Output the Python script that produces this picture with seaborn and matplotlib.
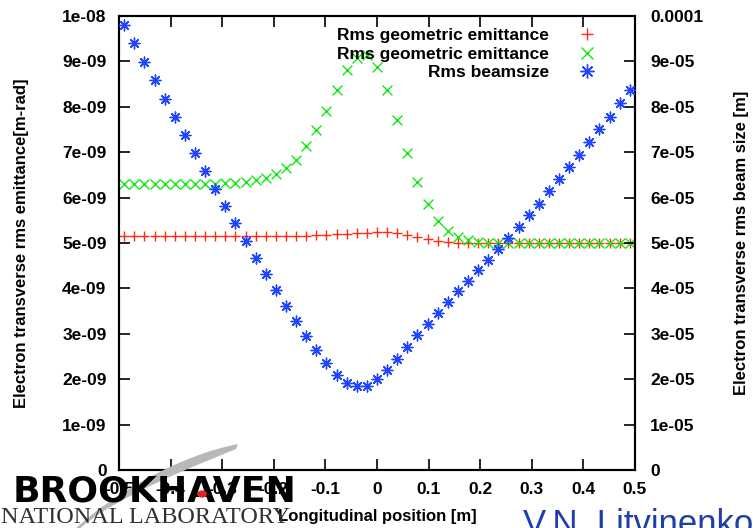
import matplotlib
matplotlib.use("Agg")
import matplotlib.pyplot as plt
import seaborn as sns
import pandas as pd
from matplotlib.ticker import FixedLocator, FixedFormatter
from matplotlib.lines import Line2D
from matplotlib.patches import Circle, PathPatch
from matplotlib.path import Path

# Longitudinal position of each sample [m]
position = [-0.4900, -0.4704, -0.4508, -0.4312, -0.4116, -0.3920, -0.3724, -0.3528,
            -0.3332, -0.3136, -0.2940, -0.2744, -0.2548, -0.2352, -0.2156, -0.1960,
            -0.1764, -0.1568, -0.1372, -0.1176, -0.0980, -0.0784, -0.0588, -0.0392,
            -0.0196, 0.0000, 0.0196, 0.0392, 0.0588, 0.0784, 0.0980, 0.1176,
            0.1372, 0.1568, 0.1764, 0.1960, 0.2156, 0.2352, 0.2548, 0.2744,
            0.2940, 0.3136, 0.3332, 0.3528, 0.3724, 0.3920, 0.4116, 0.4312,
            0.4508, 0.4704, 0.4900]

# Rms geometric emittance, first plane [1e-9 m-rad]
emit_a = [5.16] * 18 + [5.16, 5.17, 5.18, 5.19, 5.20, 5.22, 5.23, 5.24, 5.24, 5.22,
                        5.18, 5.13, 5.08, 5.05, 5.03, 5.01] + [5.00] * 17

# Rms geometric emittance, second plane [1e-9 m-rad]
emit_b = [6.31] * 10 + [6.32, 6.33, 6.35, 6.38, 6.44, 6.52, 6.66, 6.83, 7.13, 7.48,
                        7.91, 8.38, 8.80, 9.07, 9.13, 8.88, 8.38, 7.70, 6.98, 6.35,
                        5.86, 5.49, 5.26, 5.13, 5.07, 5.03, 5.01] + [5.00] * 14

# Rms beam size [1e-5 m]
beamsize = [9.80, 9.40, 8.98, 8.58, 8.17, 7.78, 7.37, 6.98, 6.58, 6.20, 5.81, 5.43,
            5.04, 4.68, 4.32, 3.96, 3.61, 3.28, 2.95, 2.64, 2.36, 2.10, 1.92, 1.84,
            1.86, 2.00, 2.20, 2.45, 2.71, 2.97, 3.22, 3.46, 3.69, 3.94, 4.17, 4.40,
            4.63, 4.87, 5.10, 5.36, 5.62, 5.87, 6.14, 6.40, 6.68, 6.94, 7.23, 7.51,
            7.78, 8.08, 8.36]

series_labels = ["Rms geometric emittance", "Rms geometric emittance", "Rms beamsize"]

x_ticks = [-0.5, -0.4, -0.3, -0.2, -0.1, 0.0, 0.1, 0.2, 0.3, 0.4, 0.5]
x_ticklabels = ["-0.5", "-0.4", "-0.3", "-0.2", "-0.1", "0", "0.1", "0.2", "0.3", "0.4", "0.5"]
left_ticklabels = ["0", "1e-09", "2e-09", "3e-09", "4e-09", "5e-09",
                   "6e-09", "7e-09", "8e-09", "9e-09", "1e-08"]
right_ticklabels = ["0", "1e-05", "2e-05", "3e-05", "4e-05", "5e-05",
                    "6e-05", "7e-05", "8e-05", "9e-05", "0.0001"]

df = pd.DataFrame({
    "z": position,
    "emit_a": [v * 1e-9 for v in emit_a],
    "emit_b": [v * 1e-9 for v in emit_b],
    "size": [v * 1e-5 for v in beamsize],
})

sns.set_theme(style="white")
plt.rcParams["font.family"] = ["Liberation Sans", "DejaVu Sans"]
plt.rcParams["font.weight"] = "bold"
for key in ("text.color", "axes.labelcolor", "xtick.color", "ytick.color"):
    plt.rcParams[key] = "black"

RED, GREEN, BLUE = "#ff2a10", "#10e810", "#1f45ff"
ASTERISK = (8, 2, 0)

W, H = 753, 528
fig = plt.figure(figsize=(W / 100, H / 100), dpi=100)
ax = fig.add_axes([119 / W, 1 - 470 / H, 516 / W, 454 / H])
ax2 = ax.twinx()

sns.scatterplot(data=df, x="z", y="emit_a", ax=ax, marker="+", color=RED,
                s=48, linewidth=1.0, legend=False, zorder=3)
sns.scatterplot(data=df, x="z", y="emit_b", ax=ax, marker="x", color=GREEN,
                s=50, linewidth=1.0, legend=False, zorder=4)
sns.scatterplot(data=df, x="z", y="size", ax=ax2, marker=ASTERISK, color=BLUE,
                s=60, linewidth=1.0, legend=False, zorder=5)

ax.set_xlim(-0.5, 0.5)
ax.set_ylim(0, 1e-8)
ax2.set_ylim(0, 1e-4)

ax.xaxis.set_major_locator(FixedLocator(x_ticks))
ax.xaxis.set_major_formatter(FixedFormatter(x_ticklabels))
ax.yaxis.set_major_locator(FixedLocator([i * 1e-9 for i in range(11)]))
ax.yaxis.set_major_formatter(FixedFormatter(left_ticklabels))
ax2.yaxis.set_major_locator(FixedLocator([i * 1e-5 for i in range(11)]))
ax2.yaxis.set_major_formatter(FixedFormatter(right_ticklabels))

tick_font = 12.5
ax.tick_params(axis="x", direction="in", length=8, width=1.2, top=True, bottom=True,
               labelsize=tick_font, pad=9)
ax.tick_params(axis="y", direction="in", length=8, width=1.2, left=True, right=False,
               labelsize=tick_font, pad=9)
ax2.tick_params(axis="y", direction="in", length=8, width=1.2, right=True,
                labelsize=tick_font, pad=11)
for a in (ax, ax2):
    for sp in a.spines.values():
        sp.set_visible(True)
        sp.set_color("black")
        sp.set_linewidth(1.5)

ax.set_xlabel("Longitudinal position [m]", fontsize=12, fontweight="bold")
ax.set_ylabel("Electron transverse rms emittance[m-rad]", fontsize=12, fontweight="bold")
ax2.set_ylabel("Electron transverse rms beam size [m]", fontsize=12, fontweight="bold")
ax.xaxis.set_label_coords(0.5, -0.085)
ax.yaxis.set_label_coords(-0.175, 0.5)
ax2.yaxis.set_label_coords(1.192, 0.5)

handles = [
    Line2D([], [], linestyle="none", marker="+", color=RED, markersize=9, markeredgewidth=1.0),
    Line2D([], [], linestyle="none", marker="x", color=GREEN, markersize=9, markeredgewidth=1.0),
    Line2D([], [], linestyle="none", marker=ASTERISK, color=BLUE, markersize=10, markeredgewidth=1.0),
]
ax2.legend(handles, series_labels, loc="upper right", bbox_to_anchor=(0.9405, 0.974),
           markerfirst=False, frameon=False, fontsize=12.5, handlelength=2.0,
           handletextpad=1.2, labelspacing=0.2, borderpad=0, borderaxespad=0)


def fig_xy(px, py):
    return px / W, 1 - py / H


# Laboratory logo: grey orbit swoosh, word mark and red dot
swoosh_pts = [fig_xy(72, 532), fig_xy(110, 495), fig_xy(180, 455), fig_xy(238, 444),
              fig_xy(236, 449), fig_xy(205, 462), fig_xy(112, 497), fig_xy(76, 532),
              fig_xy(72, 532)]
swoosh_codes = [Path.MOVETO, Path.CURVE4, Path.CURVE4, Path.CURVE4,
                Path.LINETO, Path.CURVE4, Path.CURVE4, Path.CURVE4, Path.CLOSEPOLY]
fig.patches.append(PathPatch(Path(swoosh_pts, swoosh_codes), facecolor="#b8b8b8",
                             edgecolor="none", transform=fig.transFigure, zorder=9))
fig.text(13 / W, 1 - 501 / H, "BROOKHAVEN", fontsize=26, fontweight="heavy",
         family="DejaVu Sans", color="black", va="baseline", ha="left", zorder=10)
fig.text(1 / W, 1 - 523 / H, "NATIONAL LABORATORY", fontsize=17.5,
         family="Liberation Serif", fontweight="normal", color="#303030",
         va="baseline", ha="left", zorder=10)
fig.patches.append(Circle(fig_xy(202, 494), 4.2 / W, color="#e02818",
                          transform=fig.transFigure, zorder=11))
fig.text(523 / W, 1 - 534 / H, "V.N. Litvinenko", fontsize=25,
         fontweight="normal", color="#1f3fa8", va="baseline", ha="left")

fig.savefig("out.png", dpi=100)
